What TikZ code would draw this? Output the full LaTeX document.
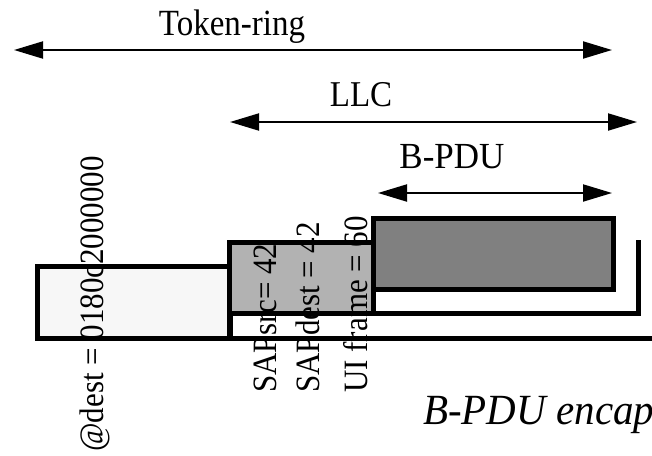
\documentclass[tikz,border=0pt]{standalone}
\usepackage{fontspec}
\setmainfont{Liberation Serif}
\usetikzlibrary{arrows.meta}
\newcommand{\tallx}[2]{\scalebox{1}[#1]{#2}}
\begin{document}
\begin{tikzpicture}[x=1pt,y=-1pt,
  lbl/.style={inner sep=0pt,font=\fontsize{33}{36}\selectfont},
  vlbl/.style={inner sep=0pt,rotate=90,anchor=base west,font=\fontsize{31}{34}\selectfont},
  dim/.style={line width=2pt,{Triangle[length=29pt,width=17pt]}-{Triangle[length=29pt,width=17pt]}},
  field/.style={draw,line width=5pt},
  frame/.style={line width=5pt}]
\useasboundingbox (0,0) rectangle (652,455);
\clip (0,0) rectangle (652,455);
% boxes
\path[field,fill=black!3] (37,266) rectangle (230,338);
\draw[frame] (35,338) -- (660,338);
\draw[frame] (229,338) -- (229,313) -- (638,313) -- (638,240);
\path[field,fill=black!30] (229,242) rectangle (373,313);
\path[field,fill=black!50] (373,218) rectangle (613,289);
% dimension arrows
\coordinate (trL) at (14,50);
\coordinate (trR) at (612,50);
\coordinate (llcL) at (230,122);
\coordinate (llcR) at (637,122);
\coordinate (bpL) at (378,193);
\coordinate (bpR) at (612,193);
\draw[dim] (trL) -- (trR);
\draw[dim] (llcL) -- (llcR);
\draw[dim] (bpL) -- (bpR);
\node[lbl,anchor=base] (tr) at (232,35) {\tallx{1.12}{Token-ring}};
\node[lbl,anchor=base] (llc) at (361,106) {\tallx{1.1}{LLC}};
\node[lbl,anchor=base,font=\fontsize{35}{38}\selectfont] (bp) at (452,168) {\tallx{1.05}{B-PDU}};
% vertical labels
\node[vlbl] (adest) at (103,452) {\tallx{1.1}{@dest = 0180c2000000}};
\node[vlbl] (sapsrc) at (276,393) {\tallx{1.1}{SAPsrc= 42}};
\node[vlbl] (sapdest) at (319,393) {\tallx{1.1}{SAPdest = 42}};
\node[vlbl] (ui) at (367,393) {\tallx{1.1}{UI frame = 60}};
% caption
\node[inner sep=0pt,anchor=base west,font=\fontsize{41}{45}\itshape] (cap) at (423,424) {\tallx{1.05}{B-PDU encapsulation}};
\end{tikzpicture}
\end{document}
